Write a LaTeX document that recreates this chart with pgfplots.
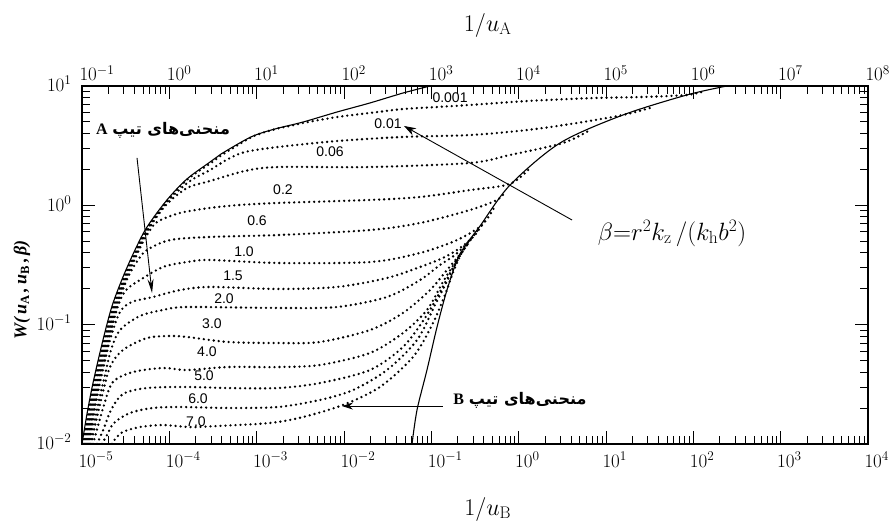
\RequirePackage{fix-cm}
\documentclass[border=0pt]{standalone}
\usepackage{fontspec}
\usepackage{pgfplots}
\pgfplotsset{compat=1.18}
\usetikzlibrary{arrows.meta}
\TeXXeTstate=1
\newfontfamily\fa[Script=Arabic]{DejaVu Sans}
\newfontfamily\lab{Liberation Sans}
\newfontfamily\tms{Liberation Serif}
\newcommand\fs[1]{\fontsize{#1}{#1}\selectfont}
\newcommand\typeA{{\tms\bfseries A}\ {\fa\bfseries\beginR منحنی‌های تیپ\endR}}
\newcommand\typeB{{\tms\bfseries B}\ {\fa\bfseries\beginR منحنی‌های تیپ\endR}}
\newcommand\betadef{$\beta{=}r^2k_{\mathrm{z}}\,/(k_{\mathrm{h}}b^2)$}
\newcommand\wlabel{{\tms\bfseries\itshape W(\,u\textsubscript{\upshape A}\,,\,u\textsubscript{\upshape B}\,,\,β)}}

% values are log10(1/u_B) and log10(W)
\pgfplotsset{
  bdot/.style={black, line width=2.6pt, dash pattern=on 0pt off 5pt, line cap=round, smooth},
  tline/.style={black, line width=1.1pt, smooth},
}
\tikzset{
  blab/.style={font=\lab\fs{14}, inner sep=1pt},
}

\begin{document}
\begin{tikzpicture}
\path[use as bounding box] (-82pt,-78pt) rectangle (809pt,444pt);
\begin{axis}[
  at={(0,0)}, anchor=south west, scale only axis,
  width=786pt, height=358pt,
  xmin=-5, xmax=4, ymin=-2, ymax=1,
  axis line style={line width=1.2pt},
  tick align=inside, major tick length=13pt, minor tick length=8pt,
  tick style={black, line width=0.9pt},
  xtick={-5,-4,-3,-2,-1,0,1,2,3,4},
  xticklabels={$10^{-5}$,$10^{-4}$,$10^{-3}$,$10^{-2}$,$10^{-1}$,$10^{0}$,$10^{1}$,$10^{2}$,$10^{3}$,$10^{4}$},
  minor xtick={-4.699,-4.523,-4.398,-4.301,-4.222,-4.155,-4.097,-4.046,-3.699,-3.523,-3.398,-3.301,-3.222,-3.155,-3.097,-3.046,-2.699,-2.523,-2.398,-2.301,-2.222,-2.155,-2.097,-2.046,-1.699,-1.523,-1.398,-1.301,-1.222,-1.155,-1.097,-1.046,-0.699,-0.523,-0.398,-0.301,-0.222,-0.155,-0.097,-0.046,0.301,0.477,0.602,0.699,0.778,0.845,0.903,0.954,1.301,1.477,1.602,1.699,1.778,1.845,1.903,1.954,2.301,2.477,2.602,2.699,2.778,2.845,2.903,2.954,3.301,3.477,3.602,3.699,3.778,3.845,3.903,3.954},
  ytick={-2,-1,0,1},
  yticklabels={$10^{-2}$,$10^{-1}$,$10^{0}$,$10^{1}$},
  minor ytick={-1.699,-1.523,-1.398,-1.301,-1.222,-1.155,-1.097,-1.046,-0.699,-0.523,-0.398,-0.301,-0.222,-0.155,-0.097,-0.046,0.301,0.477,0.602,0.699,0.778,0.845,0.903,0.954},
  tick label style={font=\fs{19}},
  xticklabel style={anchor=north west, xshift=-7pt, yshift=-4pt},
  yticklabel style={xshift=-7pt, yshift=2pt},
]
% Theis curve for type A (left) and type B (right)
\addplot[tline] coordinates {(-5.000,-2.000) (-4.943,-1.749) (-4.874,-1.489) (-4.760,-1.129) (-4.656,-0.844) (-4.531,-0.601) (-4.393,-0.374) (-4.256,-0.182) (-4.027,0.045) (-3.798,0.221) (-3.534,0.363) (-3.408,0.430) (-3.065,0.573) (-2.790,0.640) (-2.469,0.698) (-2.080,0.782) (-1.702,0.858) (-1.325,0.941) (-1.015,1.000)};
\addplot[tline] coordinates {(-1.221,-2.000) (-1.164,-1.715) (-1.050,-1.380) (-0.935,-1.020) (-0.821,-0.710) (-0.695,-0.441) (-0.580,-0.307) (-0.443,-0.174) (-0.099,0.170) (0.473,0.522) (1.194,0.757) (1.927,0.925) (2.385,1.000)};

% beta = 0.001
\addplot[bdot] coordinates {(-4.989,-2.000) (-4.931,-1.749) (-4.863,-1.489) (-4.748,-1.129) (-4.645,-0.844) (-4.519,-0.601) (-4.382,-0.374) (-4.244,-0.182) (-4.015,0.045) (-3.786,0.221) (-3.523,0.355) (-3.397,0.422) (-3.054,0.573) (-2.779,0.640) (-2.618,0.665) (-2.469,0.690) (-2.080,0.740) (-1.702,0.774) (-1.325,0.807) (-0.935,0.824) (-0.557,0.841) (0.095,0.874) (0.851,0.899) (1.423,0.908) (1.927,0.925) (2.133,0.958)};
% beta = 0.01
\addplot[bdot] coordinates {(-4.977,-2.000) (-4.920,-1.749) (-4.851,-1.489) (-4.737,-1.129) (-4.634,-0.844) (-4.508,-0.601) (-4.370,-0.374) (-4.233,-0.182) (-4.004,0.045) (-3.763,0.204) (-3.534,0.296) (-3.328,0.388) (-3.134,0.447) (-2.756,0.489) (-2.080,0.539) (-1.325,0.573) (-0.557,0.589) (0.095,0.631) (0.668,0.690) (1.194,0.757) (1.504,0.816)};
% beta = 0.06
\addplot[bdot] coordinates {(-4.966,-2.000) (-4.908,-1.749) (-4.840,-1.489) (-4.725,-1.129) (-4.622,-0.844) (-4.496,-0.601) (-4.359,-0.374) (-4.221,-0.182) (-4.038,0.003) (-3.798,0.145) (-3.534,0.204) (-3.134,0.288) (-2.756,0.321) (-1.702,0.321) (-0.557,0.355) (-0.099,0.422) (0.507,0.522) (0.817,0.631)};
% beta = 0.2
\addplot[bdot] coordinates {(-4.954,-2.000) (-4.897,-1.749) (-4.828,-1.489) (-4.714,-1.129) (-4.611,-0.844) (-4.485,-0.601) (-4.347,-0.374) (-4.256,-0.249) (-4.141,-0.140) (-3.878,-0.064) (-3.534,-0.022) (-3.191,0.003) (-2.756,0.020) (-1.702,0.045) (-1.130,0.070) (-0.557,0.128) (-0.099,0.179) (0.130,0.313)};
% beta = 0.6
\addplot[bdot] coordinates {(-4.943,-2.000) (-4.885,-1.749) (-4.817,-1.489) (-4.702,-1.129) (-4.599,-0.844) (-4.473,-0.601) (-4.359,-0.458) (-4.256,-0.374) (-3.992,-0.291) (-3.534,-0.265) (-2.756,-0.249) (-1.702,-0.207) (-1.130,-0.148) (-0.557,-0.039) (-0.248,0.045) (-0.157,0.112)};
% beta = 1.0
\addplot[bdot] coordinates {(-4.931,-2.000) (-4.874,-1.749) (-4.805,-1.489) (-4.691,-1.129) (-4.588,-0.844) (-4.496,-0.710) (-4.336,-0.626) (-4.073,-0.517) (-3.798,-0.475) (-3.534,-0.458) (-2.756,-0.483) (-1.702,-0.475) (-1.130,-0.399) (-0.706,-0.291) (-0.420,-0.165) (-0.271,-0.006)};
% beta = 1.5
\addplot[bdot] coordinates {(-4.920,-2.000) (-4.863,-1.749) (-4.794,-1.489) (-4.679,-1.129) (-4.565,-0.894) (-4.428,-0.810) (-4.187,-0.768) (-3.878,-0.710) (-3.534,-0.684) (-2.756,-0.701) (-2.080,-0.684) (-1.508,-0.609) (-1.130,-0.517) (-0.867,-0.441) (-0.672,-0.358) (-0.500,-0.249) (-0.385,-0.123)};
% beta = 2.0
\addplot[bdot] coordinates {(-4.908,-2.000) (-4.817,-1.673) (-4.737,-1.422) (-4.668,-1.212) (-4.565,-1.045) (-4.336,-0.927) (-4.073,-0.877) (-3.798,-0.852) (-2.756,-0.860) (-2.080,-0.852) (-1.508,-0.768) (-1.130,-0.626) (-0.901,-0.500) (-0.729,-0.416) (-0.557,-0.291) (-0.443,-0.182)};
% beta = 3.0
\addplot[bdot] coordinates {(-4.897,-2.000) (-4.782,-1.631) (-4.679,-1.355) (-4.531,-1.212) (-4.256,-1.112) (-3.992,-1.095) (-3.798,-1.103) (-3.328,-1.145) (-2.756,-1.154) (-2.275,-1.145) (-1.702,-1.045) (-1.325,-0.902) (-1.015,-0.710) (-0.821,-0.542) (-0.649,-0.391) (-0.534,-0.274)};
% beta = 4.0
\addplot[bdot] coordinates {(-4.874,-2.000) (-4.748,-1.673) (-4.645,-1.480) (-4.416,-1.397) (-4.073,-1.363) (-3.798,-1.380) (-3.328,-1.355) (-2.756,-1.355) (-2.275,-1.338) (-1.702,-1.237) (-1.325,-1.070) (-1.050,-0.877) (-0.867,-0.642) (-0.695,-0.441) (-0.580,-0.324)};
% beta = 5.0
\addplot[bdot] coordinates {(-4.828,-2.000) (-4.748,-1.866) (-4.668,-1.715) (-4.531,-1.581) (-4.256,-1.531) (-3.798,-1.522) (-3.328,-1.531) (-2.756,-1.531) (-2.275,-1.489) (-1.702,-1.380) (-1.325,-1.187) (-1.073,-0.944) (-0.901,-0.726) (-0.729,-0.492) (-0.615,-0.358)};
% beta = 6.0
\addplot[bdot] coordinates {(-4.771,-2.000) (-4.714,-1.925) (-4.634,-1.824) (-4.450,-1.740) (-4.187,-1.698) (-3.878,-1.690) (-3.328,-1.698) (-2.756,-1.690) (-2.275,-1.631) (-1.897,-1.548) (-1.508,-1.380) (-1.164,-1.129) (-0.958,-0.835) (-0.786,-0.584) (-0.672,-0.416)};
% beta = 7.0
\addplot[bdot] coordinates {(-4.656,-2.000) (-4.611,-1.950) (-4.531,-1.899) (-4.336,-1.858) (-4.073,-1.841) (-3.763,-1.858) (-3.443,-1.849) (-2.847,-1.824) (-2.469,-1.774) (-2.012,-1.673) (-1.588,-1.522) (-1.210,-1.271) (-0.992,-1.003) (-0.844,-0.751) (-0.741,-0.542) (-0.649,-0.391)};
\end{axis}

% top axis: 1/u_A
\begin{axis}[
  at={(0,0)}, anchor=south west, scale only axis,
  width=786pt, height=358pt,
  xmin=-1, xmax=8, ymin=-2, ymax=1,
  hide y axis, axis x line*=top, x axis line style={draw=none},
  xtick={-1,0,1,2,3,4,5,6,7,8},
  xticklabels={$10^{-1}$,$10^{0}$,$10^{1}$,$10^{2}$,$10^{3}$,$10^{4}$,$10^{5}$,$10^{6}$,$10^{7}$,$10^{8}$},
  major tick length=0pt, minor tick num=0,
  tick label style={font=\fs{19}},
  xticklabel style={anchor=south west, xshift=-6pt, yshift=1.5pt},
]
\end{axis}

% labels and annotations, in the units of the lower axis (log10)
\begin{scope}[x=87.333pt, y=119.333pt, shift={(436.667pt,238.667pt)}]
\node[font=\fs{24}] at (-0.354,-2.545) {$1/u_{\mathrm{B}}$};
\node[font=\fs{24}] at (-0.354,1.511) {$1/u_{\mathrm{A}}$};
\node[font=\fs{18}, rotate=90] at (-5.687,-0.710) {\wlabel};
\node[blab] at (-0.786,0.899) {0.001};
\node[blab] at (-1.496,0.682) {0.01};
\node[blab] at (-2.160,0.447) {0.06};
\node[blab] at (-2.699,0.128) {0.2};
\node[blab] at (-2.996,-0.131) {0.6};
\node[blab] at (-3.145,-0.391) {1.0};
\node[blab] at (-3.271,-0.592) {1.5};
\node[blab] at (-3.374,-0.785) {2.0};
\node[blab] at (-3.512,-0.994) {3.0};
\node[blab] at (-3.569,-1.229) {4.0};
\node[blab] at (-3.603,-1.430) {5.0};
\node[blab] at (-3.672,-1.623) {6.0};
\node[blab] at (-3.695,-1.816) {7.0};
\node[font=\fs{16}] at (-4.073,0.631) {\typeA};
\node[font=\fs{16}] at (0.015,-1.631) {\typeB};
\draw[line width=0.9pt, -{Stealth[length=14pt, width=6pt]}] (-4.370,0.397) -- (-4.198,-0.735);
\draw[line width=0.9pt, -{Stealth[length=11pt, width=7pt]}] (-0.867,-1.682) -- (-2.023,-1.682);
\draw[line width=0.9pt, -{Stealth[length=12pt, width=8pt]}] (0.611,-0.123) -- (-1.313,0.665);
\node[font=\fs{25}] at (1.756,-0.232) {\betadef};
\end{scope}
\end{tikzpicture}
\end{document}
